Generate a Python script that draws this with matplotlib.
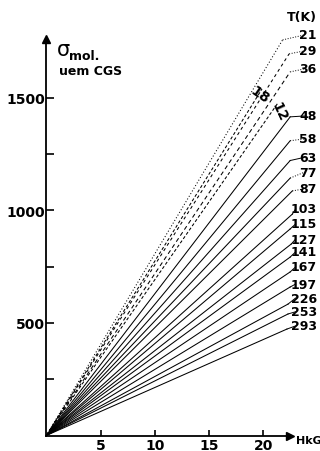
import matplotlib
matplotlib.use("Agg")
import matplotlib.pyplot as plt

plt.rcParams['font.family'] = ['DejaVu Sans']

# temperature labels (K) and end point (H kG, sigma uem CGS) of each straight line
temps = ["21", "29", "36", "48", "58", "63", "77", "87", "103",
         "115", "127", "141", "167", "197", "226", "253", "293"]
h_end = [21.8, 22.4, 22.5, 22.5, 22.5, 22.5, 22.5, 22.7, 22.7,
         22.5, 22.6, 22.5, 22.5, 22.5, 22.3, 22.3, 22.2]
sig_end = [1758, 1696, 1616, 1416, 1310, 1222, 1144, 1087, 984,
           918, 851, 793, 727, 660, 584, 540, 473]
# label heights (sigma) at the right margin
label_sig = [1780, 1709, 1629, 1420, 1318, 1236, 1170, 1096, 1007,
             940, 873, 816, 749, 673, 611, 550, 487]
dotted_leader = ["21", "29", "36", "58", "77", "87"]

# extra lines in the low-T bundle, marked 18 and 12
extra_names = ["18", "12"]
extra_h = [19.9, 21.4]
extra_sig = [1540, 1480]

y_ticks = [250, 500, 750, 1000, 1250, 1500]
y_ticklabels = ["", "500", "", "1000", "", "1500"]
x_ticks = [5, 10, 15, 20]

W, H = 320, 452
fig = plt.figure(figsize=(W / 100, H / 100), dpi=100)
ax = fig.add_axes([46.3 / W, 15.5 / H, 243.9 / W, 396.5 / H])
ax.set_xlim(0, 22.5)
ax.set_ylim(0, 1762)

styles = {"21": (0, (1, 2)), "29": (0, (3, 3)), "36": (0, (4, 3))}
for t, he, se in zip(temps, h_end, sig_end):
    ls = styles.get(t, "-")
    ax.plot([0, he], [0, se], color="k", lw=0.75, ls=ls, clip_on=False)
for name, he, se in zip(extra_names, extra_h, extra_sig):
    ax.plot([0, he], [0, se], color="k", lw=0.75, ls=(0, (3, 2)), clip_on=False)

# leaders + labels
for t, he, se, ly in zip(temps, h_end, sig_end, label_sig):
    x_lab = 23.0 if len(t) == 3 else 23.8
    ls = ":" if t in dotted_leader else "-"
    ax.plot([he, x_lab], [se, ly], color="k", lw=0.7, ls=ls, clip_on=False)
    ax.text(24.95, ly, t, ha="right", va="center", fontsize=9,
            fontweight="bold", clip_on=False)

ax.text(19.7, 1515, "18", rotation=-35, ha="center", va="center",
        fontsize=10, fontweight="bold")
ax.text(21.5, 1440, "12", rotation=-65, ha="center", va="center",
        fontsize=10, fontweight="bold")

ax.text(24.95, 1860, "T(K)", ha="right", va="center", fontsize=9, fontweight="bold")
ax.text(23.0, -22, "HkG", ha="left", va="center", fontsize=8, fontweight="bold")
ax.text(1.0, 1718, "σ", ha="left", va="center", fontsize=15)
ax.text(2.1, 1690, "mol.", ha="left", va="center", fontsize=9, fontweight="bold")
ax.text(1.2, 1620, "uem CGS", ha="left", va="center", fontsize=9, fontweight="bold")

for s in ["top", "right"]:
    ax.spines[s].set_visible(False)
for s in ["left", "bottom"]:
    ax.spines[s].set_linewidth(1.3)

ax.set_yticks(y_ticks)
ax.set_yticklabels(y_ticklabels)
ax.set_xticks(x_ticks)
ax.tick_params(axis="y", direction="in", length=6, width=1.2, pad=1, labelsize=10)
ax.tick_params(axis="x", direction="in", length=4, width=1.2, pad=2, labelsize=10)
for lab in ax.get_xticklabels() + ax.get_yticklabels():
    lab.set_fontweight("bold")

ax.plot(0, 1, marker="^", ms=6, color="k", transform=ax.transAxes, clip_on=False)
ax.plot(1, 0, marker=">", ms=6, color="k", transform=ax.transAxes, clip_on=False)

fig.savefig("out.png", dpi=100)
